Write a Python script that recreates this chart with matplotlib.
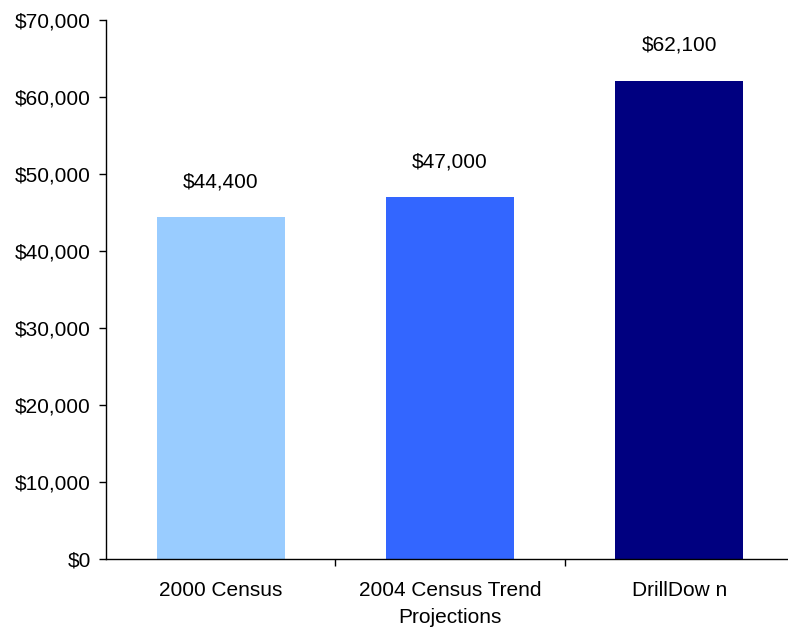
import matplotlib
matplotlib.use('Agg')
import matplotlib.pyplot as plt
from matplotlib.ticker import FuncFormatter

# Median household income estimates by source
categories = ['2000 Census', '2004 Census Trend\nProjections', 'DrillDow n']
values = [44400, 47000, 62100]
bar_colors = ['#99CCFF', '#3366FF', '#000080']
y_ticks = [0, 10000, 20000, 30000, 40000, 50000, 60000, 70000]

plt.rcParams['font.family'] = ['Liberation Sans', 'DejaVu Sans']

fig = plt.figure(figsize=(7.88, 6.33), dpi=100)
ax = fig.add_axes([106 / 788, 1 - 559 / 633, 688 / 788, 539 / 633])

x = list(range(len(categories)))
ax.bar(x, values, width=0.557, color=bar_colors)

for xi, v in zip(x, values):
    ax.annotate('${:,.0f}'.format(v), xy=(xi, v), xytext=(0, 21.5),
                textcoords='offset points', ha='center', va='baseline',
                fontsize=15)

ax.set_xlim(-0.5, len(categories) - 0.5)
ax.set_ylim(0, 70000)
ax.set_yticks(y_ticks)
ax.yaxis.set_major_formatter(FuncFormatter(lambda v, p: '${:,.0f}'.format(v)))

# category labels at the centres, tick marks on the boundaries
ax.set_xticks(x)
ax.set_xticklabels(categories, linespacing=1.55)
ax.set_xticks([i + 0.5 for i in x], minor=True)
ax.tick_params(axis='x', which='major', length=0, pad=16, labelsize=15)
ax.tick_params(axis='x', which='minor', length=5, width=1, direction='out')
ax.tick_params(axis='y', length=5, width=1, direction='out', pad=6, labelsize=15)

ax.spines['top'].set_visible(False)
ax.spines['right'].set_visible(False)
ax.spines['left'].set_linewidth(1)
ax.spines['bottom'].set_linewidth(1)

fig.savefig('out.png', dpi=100)
